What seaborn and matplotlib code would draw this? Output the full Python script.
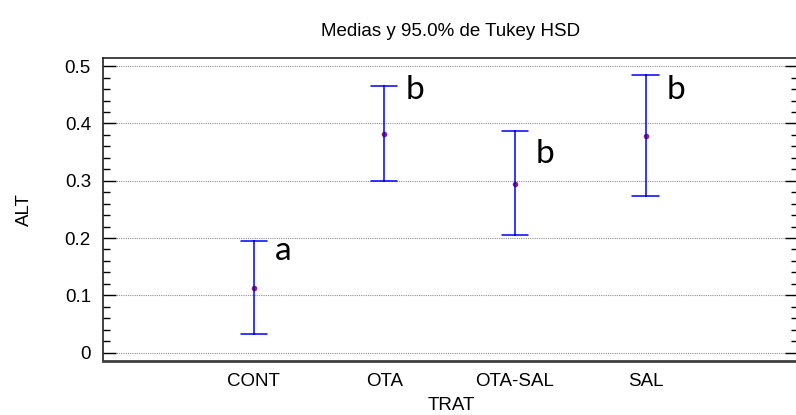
import pandas as pd
import matplotlib.pyplot as plt
from matplotlib.ticker import MultipleLocator
import seaborn as sns

# Tukey HSD 95% intervals per treatment
trat = ['CONT', 'OTA', 'OTA-SAL', 'SAL']
medias = [0.113, 0.382, 0.295, 0.378]
lim_inf = [0.032, 0.300, 0.205, 0.274]
lim_sup = [0.194, 0.465, 0.387, 0.484]
grupos = ['a', 'b', 'b', 'b']
grupo_y = [0.177, 0.458, 0.346, 0.458]

# long table: lower / mean / upper per group -> median = mean, range = interval
rows = []
for t, lo, m, hi in zip(trat, lim_inf, medias, lim_sup):
    for v in (lo, m, hi):
        rows.append({'TRAT': t, 'ALT': v})
df = pd.DataFrame(rows)

sns.set_style('ticks', {'text.color': 'black', 'axes.labelcolor': 'black',
                        'xtick.color': 'black', 'ytick.color': 'black'})
plt.rcParams['font.family'] = ['Liberation Sans', 'DejaVu Sans']

fig = plt.figure(figsize=(7.96, 4.15), dpi=100)
ax = fig.add_axes([0.1300, 0.1310, 0.8730, 0.7290])

sns.pointplot(data=df, x='TRAT', y='ALT', order=trat,
              estimator='median', errorbar=lambda v: (v.min(), v.max()),
              capsize=0.2, linestyle='none', color='#0000ff',
              marker='o', markersize=2, err_kws={'linewidth': 1.1}, ax=ax)
# recolour the mean markers
for coll in ax.collections:
    coll.set_facecolor('#a0205a')
    coll.set_edgecolor('#a0205a')
for line in ax.lines:
    if line.get_marker() not in (None, 'None', '', ' '):
        line.set_markerfacecolor('#a0205a')
        line.set_markeredgecolor('#a0205a')

for i, (g, gy) in enumerate(zip(grupos, grupo_y)):
    ax.text(i + 0.16, gy, g, fontsize=24, family=['Lato', 'DejaVu Sans'],
            ha='left', va='center', color='black')

ax.set_xlim(-1.15, 4.17)
ax.set_ylim(-0.014, 0.514)
ax.yaxis.set_minor_locator(MultipleLocator(0.02))
ax.set_yticks([0, 0.1, 0.2, 0.3, 0.4, 0.5])
ax.set_yticklabels(['0', '0.1', '0.2', '0.3', '0.4', '0.5'])
ax.grid(axis='y', which='major', color='#909090', linestyle=(0, (1, 1)),
        linewidth=0.8)
ax.tick_params(axis='y', which='major', direction='in', length=9.5,
               width=1.0, left=True, right=True, labelsize=13.5,
               color='black', pad=9)
ax.tick_params(axis='y', which='minor', direction='in', length=5,
               width=1.0, left=True, right=True, color='black')
ax.tick_params(axis='x', length=0, labelsize=13.5, pad=9)
for s in ax.spines.values():
    s.set_visible(True)
    s.set_color('#222222')
    s.set_linewidth(1.2)
ax.spines['bottom'].set_linewidth(2)
ax.spines['bottom'].set_color('#404040')

ax.set_xlabel('TRAT', fontsize=13.5, labelpad=5)
ax.set_ylabel('ALT', fontsize=13.5, labelpad=23)
ax.set_title('Medias y 95.0% de Tukey HSD', fontsize=13.5, pad=16,
             color='black')

fig.savefig('out.png', dpi=100)
